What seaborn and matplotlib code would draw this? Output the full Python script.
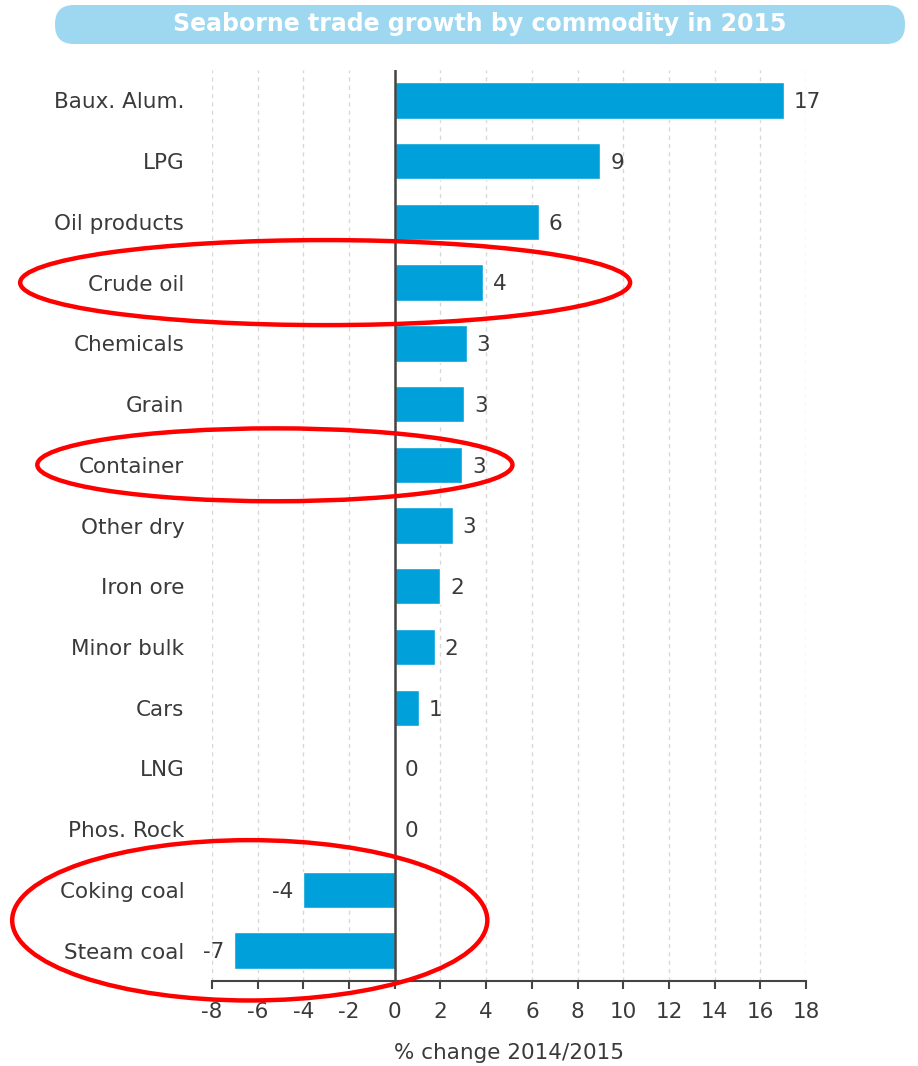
import numpy as np
import pandas as pd
import seaborn as sns
import matplotlib.pyplot as plt
from matplotlib.patches import Ellipse, FancyBboxPatch

# data (% change 2014/2015)
commodities = ['Baux. Alum.', 'LPG', 'Oil products', 'Crude oil', 'Chemicals',
               'Grain', 'Container', 'Other dry', 'Iron ore', 'Minor bulk',
               'Cars', 'LNG', 'Phos. Rock', 'Coking coal', 'Steam coal']
growth = [17.05, 9.0, 6.3, 3.85, 3.15, 3.05, 2.95, 2.55, 2.0, 1.75,
          1.05, 0.0, 0.0, -4.0, -7.05]
value_labels = ['17', '9', '6', '4', '3', '3', '3', '3', '2', '2',
                '1', '0', '0', '-4', '-7']
x_ticks = list(range(-8, 19, 2))
highlighted = ['Crude oil', 'Container']

df = pd.DataFrame({'commodity': commodities, 'growth': growth})

sns.set_style('white')
plt.rcParams['font.family'] = ['DejaVu Sans']

BAR = '#00A0DA'
TXT = '#3a3a3a'
AXC = '#444444'

fig = plt.figure(figsize=(9.18, 10.66), dpi=100)
ax = fig.add_axes([0.231, 0.0797, 0.647, 0.8546])

sns.barplot(data=df, x='growth', y='commodity', orient='h', color=BAR,
            saturation=1, width=0.6, ax=ax, zorder=2)

ax.set_xlim(-8, 18)
ax.set_ylim(len(commodities) - 0.5, -0.5)
ax.set_xticks(x_ticks)
ax.set_xticklabels([str(t) for t in x_ticks])
ax.grid(axis='x', color='#d8d8d8', linestyle=(0, (3, 3)), linewidth=1, zorder=0)
ax.set_axisbelow(True)
ax.axvline(0, color=AXC, lw=1.8, zorder=3)

for s in ['left', 'top', 'right']:
    ax.spines[s].set_visible(False)
ax.spines['bottom'].set_color(AXC)
ax.spines['bottom'].set_linewidth(1.5)
ax.tick_params(axis='x', bottom=True, direction='out', length=6, width=1.5,
               color=AXC, labelsize=15.5, labelcolor=TXT, pad=9)
ax.tick_params(axis='y', left=False, length=0, labelsize=15.5, labelcolor=TXT,
               pad=20)
ax.set_ylabel('')
ax.set_xlabel('% change 2014/2015', fontsize=15.5, color=TXT, labelpad=15)

# value labels at the bar ends
for i, (v, lab) in enumerate(zip(growth, value_labels)):
    off = -7 if v < 0 else 7
    ax.annotate(lab, (v, i + 0.03), xytext=(off, 0), textcoords='offset points',
                ha='right' if v < 0 else 'left', va='center',
                fontsize=15.5, color=TXT)

# red hand-drawn style ellipses around highlighted rows
for name in highlighted:
    i = commodities.index(name)
    w = 26.7 if name == 'Crude oil' else 20.8
    cx = -3.05 if name == 'Crude oil' else -5.25
    h = 1.4 if name == 'Crude oil' else 1.2
    ax.add_patch(Ellipse((cx, i), w, h, fill=False, edgecolor='#FF0000',
                         lw=3.2, clip_on=False, zorder=5))
coal_mid = (commodities.index('Coking coal') + commodities.index('Steam coal')) / 2
ax.add_patch(Ellipse((-6.35, coal_mid), 20.8, 2.64, fill=False,
                     edgecolor='#FF0000', lw=3.2, clip_on=False, zorder=5))

# title banner
banner = FancyBboxPatch((0.55, 10.22), 8.5, 0.39,
                        boxstyle='round,pad=0,rounding_size=0.19',
                        transform=fig.dpi_scale_trans, facecolor='#9DD8F0',
                        edgecolor='none')
fig.patches.append(banner)
fig.text(480 / 918, 1 - 24 / 1066, 'Seaborne trade growth by commodity in 2015',
         ha='center', va='center', color='white', fontsize=17, fontweight='bold')

fig.savefig('out.png', dpi=100)
